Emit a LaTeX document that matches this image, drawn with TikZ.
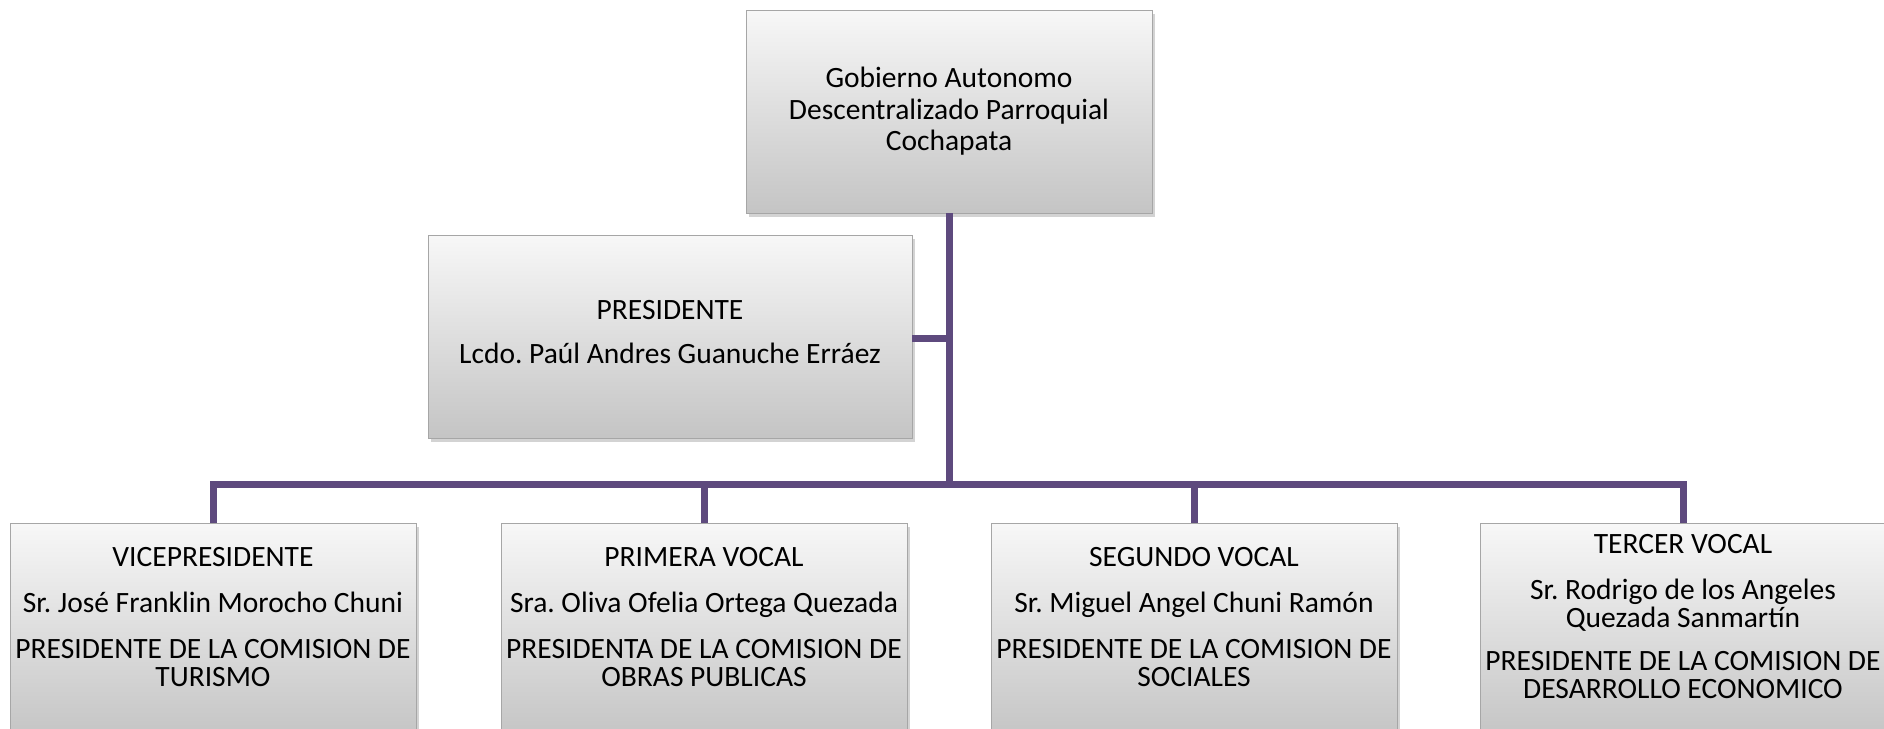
\documentclass[tikz,border=0pt]{standalone}
\usepackage{fontspec}
\setmainfont{Carlito}
\usepackage{xcolor}
\usepackage{tikz}
\usetikzlibrary{shadows}
\frenchspacing
\definecolor{linkcol}{RGB}{94,74,126}
\tikzset{
	org box/.style={rectangle,draw=black!35,line width=0.8pt,top color=black!3,bottom color=black!23,
		minimum width=406pt,minimum height=203pt,
		drop shadow={shadow xshift=3pt,shadow yshift=-4pt,opacity=0.35}},
	org text/.style={align=center,font=\fontsize{29.5}{28}\selectfont,inner sep=0pt},
	link/.style={draw=linkcol,line width=7pt}
}

\begin{document}
\begin{tikzpicture}[x=1pt,y=-1pt]
	\useasboundingbox (0,0) rectangle (1884,728);
	\clip (0,0) rectangle (1884,728);
	% boxes
	\node [org box] (gad) at (949,111.5) {};
	\node [org box,minimum width=484pt] (pres) at (670,336.5) {};
	\node [org box,minimum height=215pt] (vp) at (213,630.5) {};
	\node [org box,minimum height=215pt] (pv) at (704,630.5) {};
	\node [org box,minimum height=215pt] (sv) at (1194,630.5) {};
	\node [org box,minimum height=215pt] (tv) at (1683,630.5) {};
	% texts
	\node [org text,font=\fontsize{29.5}{31.5}\selectfont] (gad-t) at (gad) {Gobierno Autonomo\\Descentralizado Parroquial\\Cochapata};
	\node [org text] (pres-t) at (670,332) {PRESIDENTE\\[16pt]Lcdo. Paúl Andres Guanuche Erráez};
	\node [org text] (vp-t) at (213,617) {VICEPRESIDENTE\\[18pt]Sr. José Franklin Morocho Chuni\\[18pt]PRESIDENTE DE LA COMISION DE\\TURISMO};
	\node [org text] (pv-t) at (704,617) {PRIMERA VOCAL\\[18pt]Sra. Oliva Ofelia Ortega Quezada\\[18pt]PRESIDENTA DE LA COMISION DE\\OBRAS PUBLICAS};
	\node [org text] (sv-t) at (1194,617) {SEGUNDO VOCAL\\[18pt]Sr. Miguel Angel Chuni Ramón\\[18pt]PRESIDENTE DE LA COMISION DE\\SOCIALES};
	\node [org text] (tv-t) at (1683,617) {TERCER VOCAL\\[18pt]Sr. Rodrigo de los Angeles\\Quezada Sanmartín\\[15pt]PRESIDENTE DE LA COMISION DE\\DESARROLLO ECONOMICO};
	% connectors
	\coordinate (bus) at (949,484);
	\draw [link] (gad.south) -- (bus);
	\draw [link] (pres.east |- 0,338) -- (gad.south |- 0,338);
	\draw [link] (vp.north) |- (bus);
	\draw [link] (pv.north) |- (bus);
	\draw [link] (sv.north) |- (bus);
	\draw [link] (tv.north) |- (bus);
\end{tikzpicture}
\end{document}
